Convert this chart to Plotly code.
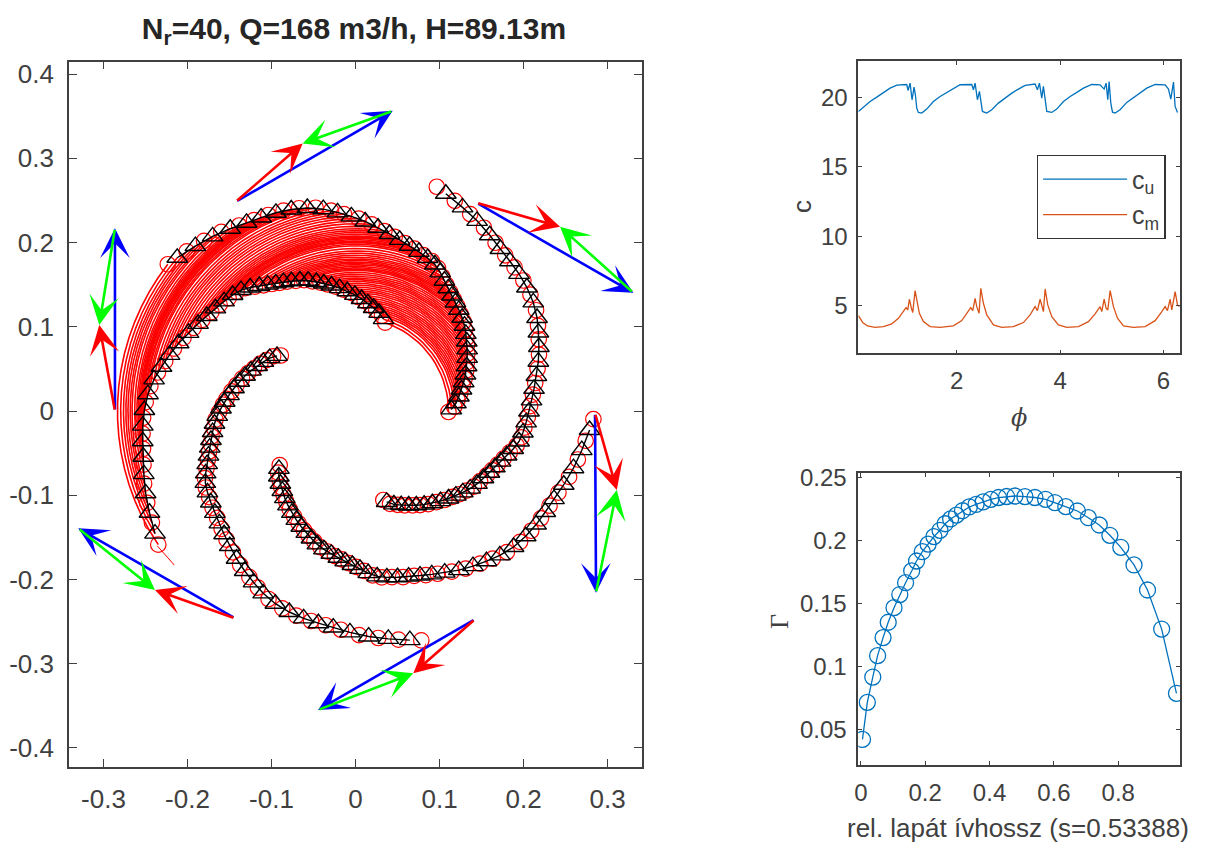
import math
import plotly.graph_objects as go

PAGE_MARGIN = 8
W, H = 1209 - 2 * PAGE_MARGIN, 845 - PAGE_MARGIN

# --- one blade (inner end to outer end); the rotor has 5 identical blades
blade_circle_x = [.0331,.0411,.0503,.0585,.0680,.0768,.0866,.0963,.1058,.1156,.1233,.1321,.1409,.1483,.1562,.1625,.1692,.1762,.1836,.1918,
                  .1975,.2010,.2051,.2078,.2111,.2139,.2167,.2184,.2181,.2172,.2149,.2082,.1998,.1893,.1782,.1667,.1529,.1365,.1182,.0967]
blade_circle_y = [-.1056,-.1102,-.1113,-.1121,-.1121,-.1116,-.1105,-.1082,-.1056,-.1020,-.0988,-.0944,-.0897,-.0832,-.0764,-.0701,-.0635,-.0565,-.0491,-.0409,
                  -.0313,-.0197,-.0071,.0059,.0195,.0333,.0501,.0670,.0852,.1012,.1197,.1383,.1550,.1706,.1849,.1998,.2176,.2339,.2496,.2663]
blade_tri_x = [.0371,.0457,.0544,.0633,.0724,.0817,.0915,.1011,.1107,.1195,.1277,.1365,.1446,.1523,.1594,.1659,.1727,.1799,.1877,.1947,
               .1993,.2031,.2065,.2095,.2125,.2153,.2176,.2183,.2177,.2161,.2116,.2040,.1946,.1838,.1725,.1598,.1447,.1274,.1075]
blade_tri_y = [-.1079,-.1108,-.1117,-.1121,-.1119,-.1111,-.1094,-.1069,-.1038,-.1004,-.0966,-.0921,-.0865,-.0798,-.0733,-.0668,-.0600,-.0528,-.0450,-.0361,
               -.0255,-.0134,-.0006,.0127,.0264,.0417,.0586,.0761,.0932,.1105,.1290,.1467,.1628,.1778,.1924,.2087,.2258,.2418,.2580]
blade_angles = [0, 72, 144, 216, 288]
fan_angles = [72, 76, 80, 84, 88, 92, 96, 100, 104, 108, 112, 116, 120, 124, 128, 132, 136, 140, 144]
tail_x = [-.236, -.2157]
tail_y = [-.160, -.1828]

# --- velocity triangles: start point, red tip, blue tip
arrow_start_x = [-.1426, .1443, .1423, -.1435, -.2863, .2851]
arrow_start_y = [.2484, .2472, -.2472, -.2460, .0000, -.0027]
arrow_red_x = [-.0629, .2435, .0688, -.2387, -.3050, .3110]
arrow_red_y = [.3177, .2188, -.3113, -.2125, .1021, -.0938]
arrow_blue_x = [.0443, .3307, -.0446, -.3300, -.2863, .2863]
arrow_blue_y = [.3564, .1404, -.3549, -.1392, .2169, -.2157]

# --- c(phi)
cu_x = [.097,.194,.323,.452,.581,.71,.839,.968,1.032,1.058,1.097,1.135,1.174,1.2,1.226,1.258,1.323,1.419,1.548,1.677,1.806,1.935,2.065,2.29,
        2.323,2.355,2.4,2.439,2.465,2.497,2.581,2.677,2.806,2.935,3.065,3.194,3.323,3.516,3.561,3.6,3.645,3.677,3.71,3.742,3.839,3.935,
        4.065,4.194,4.323,4.452,4.613,4.774,4.852,4.89,4.923,4.948,4.981,5.013,5.065,5.161,5.29,5.419,5.548,5.677,5.839,6.032,6.097,6.142,6.194,6.226,6.271]
cu_y = [18.97,19.28,19.69,20,20.34,20.65,20.86,20.91,20.91,20.48,21.01,19.81,20.72,20.17,19.21,18.9,18.85,19.14,19.69,20.05,20.34,20.65,20.89,20.91,
        20.53,21.01,19.81,20.41,19.57,18.97,18.85,19.09,19.57,19.93,20.29,20.58,20.84,20.94,20.53,21.01,19.93,20.77,19.69,18.97,18.9,19.14,
        19.69,20.05,20.34,20.65,20.91,20.89,20.58,21.01,19.81,21.13,19.57,18.92,18.85,19.09,19.62,19.98,20.29,20.65,20.91,20.89,20.58,19.86,21.08,19.33,18.9]
cm_x = [.097,.181,.271,.419,.581,.742,.871,.968,1.019,1.052,1.084,1.123,1.148,1.194,1.226,1.277,1.355,1.484,1.677,1.935,2.097,2.226,2.271,2.31,2.355,2.387,2.432,2.465,2.516,2.581,
        2.71,2.871,3.097,3.29,3.419,3.516,3.561,3.613,3.652,3.677,3.71,3.761,3.839,3.968,4.129,4.355,4.548,4.677,4.774,4.806,4.852,4.89,4.923,4.968,5.032,5.11,5.226,5.419,5.645,5.839,5.968,
        6.032,6.077,6.129,6.161,6.226,6.271,6.31]
cm_y = [4.28,3.78,3.54,3.44,3.49,3.68,4.09,4.57,4.86,4.69,5.46,4.81,4.5,6.08,5.53,4.45,3.85,3.49,3.44,3.54,3.92,4.57,4.86,4.64,5.53,4.93,4.45,6.25,5.17,4.33,
        3.61,3.44,3.49,3.78,4.33,4.93,4.64,5.46,4.88,4.57,6.2,5.05,4.21,3.61,3.44,3.49,3.85,4.4,4.93,4.57,5.46,4.81,4.69,6.08,4.93,4.09,3.54,3.44,3.49,3.92,4.57,
        4.93,4.64,5.46,4.69,6.01,5.05,4.93]

# --- Gamma(s)
gamma_s = [.005,.020,.037,.052,.069,.085,.103,.121,.139,.158,.173,.191,.209,.227,.246,.262,.279,.297,.316,.337,
           .358,.380,.404,.428,.453,.479,.510,.541,.574,.603,.637,.673,.707,.741,.774,.808,.849,.891,.935,.981]
gamma_v = [.042,.0714,.0915,.1085,.1228,.135,.1466,.157,.1664,.1757,.1836,.191,.197,.203,.208,.2132,.217,.220,.2235,.2265,
           .2285,.2305,.2325,.234,.2348,.2352,.2347,.234,.2326,.230,.2268,.2233,.218,.2122,.204,.1945,.1805,.1606,.1296,.0786]

main_ticks_x = [-.3, -.2, -.1, 0, .1, .2, .3]
main_labels_x = ["-0.3", "-0.2", "-0.1", "0", "0.1", "0.2", "0.3"]
main_ticks_y = [-.4, -.3, -.2, -.1, 0, .1, .2, .3, .4]
main_labels_y = ["-0.4", "-0.3", "-0.2", "-0.1", "0", "0.1", "0.2", "0.3", "0.4"]
gamma_ticks_y = [.05, .1, .15, .2, .25]
gamma_labels_y = ["0.05", "0.1", "0.15", "0.2", "0.25"]
gamma_ticks_x = [0, .2, .4, .6, .8]
gamma_labels_x = ["0", "0.2", "0.4", "0.6", "0.8"]

TITLE = "N<sub>r</sub>=40, Q=168 m3/h, H=89.13m"
XLABEL = "rel. lapát ívhossz (s=0.53388)"
INK = "#404040"
TXT = "#404040"
FONT = "Liberation Sans"


def rotate(xs, ys, deg):
    c, s = math.cos(math.radians(deg)), math.sin(math.radians(deg))
    return [x * c - y * s for x, y in zip(xs, ys)], [x * s + y * c for x, y in zip(xs, ys)]


fig = go.Figure()

# arcs between two neighbouring blades, one from each circle and triangle of the blade
fan_x, fan_y = [], []
for px, py in zip(blade_circle_x + blade_tri_x, blade_circle_y + blade_tri_y):
    for a in fan_angles:
        rx, ry = rotate([px], [py], a)
        fan_x.append(rx[0])
        fan_y.append(ry[0])
    fan_x.append(None)
    fan_y.append(None)
fig.add_trace(go.Scatter(x=fan_x, y=fan_y, mode="lines", line=dict(color="#ff0000", width=1.6),
                         showlegend=False, xaxis="x", yaxis="y"))
fig.add_trace(go.Scatter(x=tail_x, y=tail_y, mode="lines", line=dict(color="#ff0000", width=1),
                         showlegend=False, xaxis="x", yaxis="y"))

for a in blade_angles:
    cx, cy = rotate(blade_circle_x, blade_circle_y, a)
    fig.add_trace(go.Scatter(x=cx, y=cy, mode="markers",
                             marker=dict(symbol="circle-open", size=15.5, color="#ff0000", line=dict(width=1.2, color="#ff0000")),
                             showlegend=False, xaxis="x", yaxis="y"))
for a in blade_angles:
    tx, ty = rotate(blade_tri_x, blade_tri_y, a)
    fig.add_trace(go.Scatter(x=tx, y=ty, mode="lines+markers", line=dict(color="black", width=1.4),
                             marker=dict(symbol="triangle-up-open", size=18, color="black", line=dict(width=1.4, color="#111111")),
                             showlegend=False, xaxis="x", yaxis="y"))

fig.add_trace(go.Scatter(x=cu_x, y=cu_y, mode="lines", name="c<sub>u</sub>", line=dict(color="#0072BD", width=1.3),
                         xaxis="x2", yaxis="y2"))
fig.add_trace(go.Scatter(x=cm_x, y=cm_y, mode="lines", name="c<sub>m</sub>", line=dict(color="#D95319", width=1.3),
                         xaxis="x2", yaxis="y2"))
fig.add_trace(go.Scatter(x=gamma_s, y=gamma_v, mode="lines+markers", line=dict(color="#0072BD", width=1.3),
                         marker=dict(symbol="circle-open", size=16, color="#0072BD", line=dict(width=1.3, color="#0072BD")),
                         showlegend=False, xaxis="x3", yaxis="y3"))


def arrow(x0, y0, x1, y1, col):
    fig.add_annotation(x=x1, y=y1, ax=x0, ay=y0, xref="x", yref="y", axref="x", ayref="y", text="",
                       showarrow=True, arrowhead=3, arrowsize=1.9, arrowwidth=2.6, arrowcolor=col, standoff=0)


for i in range(len(arrow_start_x)):
    arrow(arrow_start_x[i], arrow_start_y[i], arrow_blue_x[i], arrow_blue_y[i], "#0000ff")
    arrow(arrow_start_x[i], arrow_start_y[i], arrow_red_x[i], arrow_red_y[i], "#ff0000")
    arrow(arrow_blue_x[i], arrow_blue_y[i], arrow_red_x[i], arrow_red_y[i], "#00ff00")

common = dict(showline=True, linecolor=INK, linewidth=1.6, mirror="ticks", ticks="inside", tickcolor=INK,
              showgrid=False, zeroline=False, automargin=False, tickfont=dict(family=FONT, size=24, color=TXT))
main_font = dict(family=FONT, size=26, color=TXT)


def px_x(v):
    return (v - PAGE_MARGIN) / W


def px_y(v):
    return 1 - (v - PAGE_MARGIN) / H


def dx(l, r):
    return [px_x(l), px_x(r)]


def dy(t, b):
    return [px_y(b), px_y(t)]


def label(text, x, y, family, size, angle=0):
    fig.add_annotation(text=text, x=px_x(x), y=px_y(y), xref="paper", yref="paper", xanchor="center", yanchor="middle",
                       showarrow=False, textangle=angle, font=dict(family=family, size=size, color=TXT))


label("<i>ϕ</i>", 1019, 418, "DejaVu Serif", 24)
label("c", 802, 207, FONT, 26, -90)
label(XLABEL, 1018, 828, FONT, 26)
label("Γ", 779, 622, "Liberation Serif", 26, -90)

fig.update_layout(
    width=W, height=H, margin=dict(l=0, r=0, t=0, b=0),
    paper_bgcolor="white", plot_bgcolor="white", font=dict(family=FONT, color=TXT),
    title=dict(text=TITLE, x=px_x(354), xanchor="center", y=px_y(28), yanchor="middle",
               font=dict(family=FONT, size=30, color="#262626", weight="bold")),
    xaxis=dict(common, domain=dx(69, 642), range=[-.341, .341], tickvals=main_ticks_x, ticktext=main_labels_x,
               ticklen=8, ticklabelstandoff=8, tickfont=main_font),
    yaxis=dict(common, domain=dy(61.5, 767), range=[-.4226, .415], tickvals=main_ticks_y, ticktext=main_labels_y,
               ticklen=8, ticklabelstandoff=8, tickfont=main_font),
    xaxis2=dict(common, domain=dx(858.3, 1180), range=[.095, 6.32], tickvals=[2, 4, 6], ticklen=4, ticklabelstandoff=5,
                anchor="y2"),
    yaxis2=dict(common, domain=dy(61, 353.3), range=[1.57, 22.6], tickvals=[5, 10, 15, 20], ticklen=4, ticklabelstandoff=4,
                anchor="x2"),
    xaxis3=dict(common, domain=dx(858.3, 1180), range=[-.008, .992], tickvals=gamma_ticks_x, ticktext=gamma_labels_x,
                ticklen=4, ticklabelstandoff=5, anchor="y3"),
    yaxis3=dict(common, domain=dy(472.7, 765), range=[.0217, .2537], tickvals=gamma_ticks_y, ticktext=gamma_labels_y,
                ticklen=4, ticklabelstandoff=5, anchor="x3"),
    legend=dict(x=px_x(1036.7), y=px_y(155), xanchor="left", yanchor="top", bgcolor="white", bordercolor="#333333",
                borderwidth=1.4, font=dict(family=FONT, size=25, color=TXT), itemwidth=84),
)

fig.write_html("out.html")
